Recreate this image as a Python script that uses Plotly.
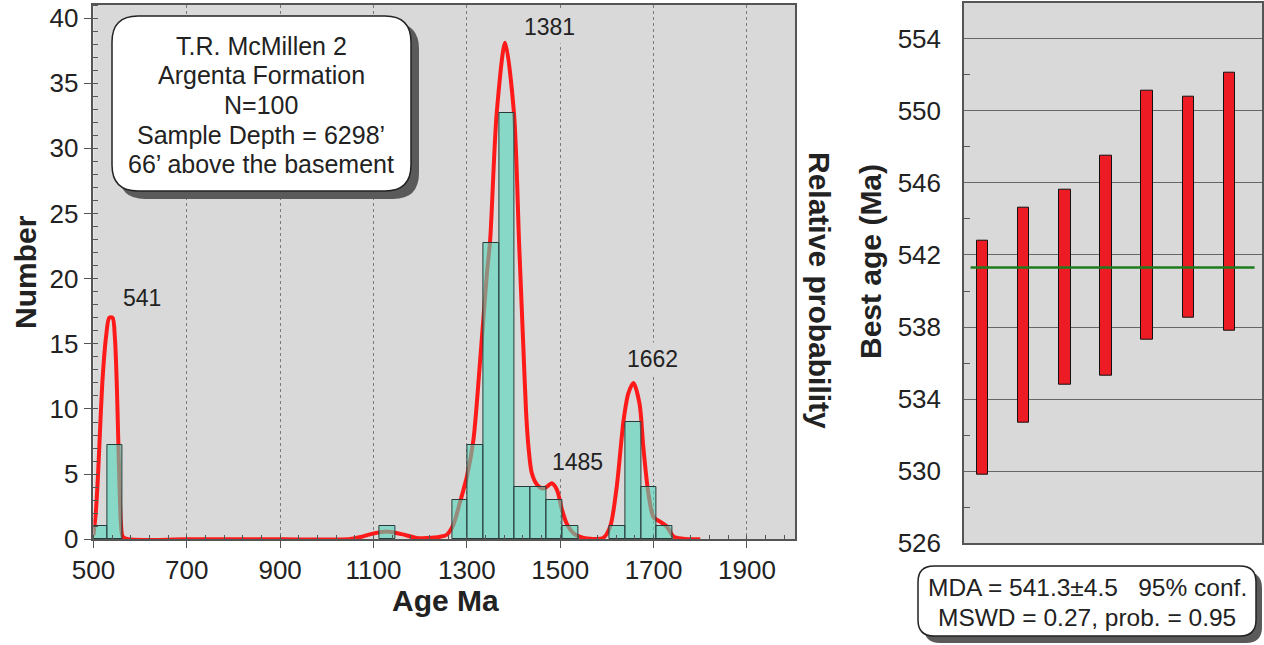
import plotly.graph_objects as go

W, H = 1264, 645

# ---------------- data ----------------
bin_left = [496, 530, 1113, 1269, 1301, 1335, 1369, 1402, 1436, 1470, 1504, 1605, 1640, 1673, 1707]
bin_right = [530, 563, 1146, 1301, 1335, 1369, 1402, 1436, 1470, 1504, 1538, 1640, 1673, 1707, 1740]
counts = [1, 7.2, 1, 3, 7.2, 22.7, 32.7, 4, 4, 3, 1, 1, 9, 4, 1]

curve_age = [500, 505, 510, 515, 520, 527, 534, 541, 546, 550, 553, 556, 559, 563, 575,
             700, 900, 1050, 1075, 1100, 1128, 1160, 1193, 1215, 1243, 1257, 1271, 1285,
             1300, 1314, 1328, 1343, 1350, 1364, 1382, 1401, 1412, 1421, 1427, 1432, 1439,
             1450, 1461, 1470, 1482, 1493, 1504, 1514, 1529, 1550, 1570, 1592, 1607, 1621,
             1636, 1646, 1657, 1670, 1678, 1689, 1700, 1714, 1728, 1743, 1763, 1800]
curve_prob = [0.3, 2, 5, 9, 12.5, 15.5, 17, 17, 15.5, 12, 8, 4, 1.2, 0.2, 0,
              0, 0, 0.03, 0.2, 0.45, 0.6, 0.4, 0.1, 0.1, 0.2, 0.35, 1.1, 2.8,
              4.8, 7.6, 13.5, 20.4, 23, 32.7, 38.1, 32.7, 22.7, 14.8, 9.7, 7.1, 5.1,
              4.2, 3.9, 4.0, 4.3, 3.8, 2.25, 1.2, 0.45, 0.1, 0.03, 0.1, 0.97, 4,
              9.2, 11.2, 12, 10.4, 7.1, 3.5, 1.7, 1.35, 1.0, 0.2, 0.05, 0]

peak_labels = ["541", "1381", "1485", "1662"]
peak_label_x = [604, 1478, 1538, 1697]
peak_label_y = [18.5, 39.3, 5.9, 13.8]

info_lines = ["T.R. McMillen 2", "Argenta Formation", "N=100",
              "Sample Depth = 6298\u2019", "66\u2019 above the basement"]

grain_index = [1, 2, 3, 4, 5, 6, 7]
grain_low = [529.8, 532.7, 534.8, 535.3, 537.3, 538.5, 537.8]
grain_high = [542.8, 544.6, 545.6, 547.5, 551.1, 550.8, 552.1]
mda = 541.3
mda_x = [0.71, 7.61]
mda_lines = ["MDA = 541.3\u00b14.5   95% conf.", "MSWD = 0.27, prob. = 0.95"]

# ---------------- helpers (layout only) ----------------
def px(x):
    return x / W

def py(y):
    return 1 - y / H

def rrect(x0, y0, x1, y1, r):
    pts = [("M", [(x0 + r, y0)]), ("L", [(x1 - r, y0)]), ("Q", [(x1, y0), (x1, y0 + r)]),
           ("L", [(x1, y1 - r)]), ("Q", [(x1, y1), (x1 - r, y1)]), ("L", [(x0 + r, y1)]),
           ("Q", [(x0, y1), (x0, y1 - r)]), ("L", [(x0, y0 + r)]), ("Q", [(x0, y0), (x0 + r, y0)])]
    s = ""
    for cmd, p in pts:
        s += cmd + " " + " ".join(f"{px(a):.5f},{py(b):.5f}" for a, b in p) + " "
    return s + "Z"

FONT = "Liberation Sans, Arial, sans-serif"
BG = "#d9d9d9"
AX = "#555555"

fig = go.Figure()

# probability curve on the base subplot (drawn beneath the overlaid histogram)
fig.add_trace(go.Scatter(x=curve_age, y=curve_prob, mode="lines",
                         line=dict(color="#ff1a1a", width=4, shape="spline", smoothing=0.8),
                         xaxis="x", yaxis="y", hoverinfo="skip", showlegend=False))

centers = [(a + b) / 2 for a, b in zip(bin_left, bin_right)]
widths = [b - a for a, b in zip(bin_left, bin_right)]
fig.add_trace(go.Bar(x=centers, y=counts, width=widths,
                     marker=dict(color="rgba(82,215,189,0.6)", line=dict(color="#2a3a38", width=1)),
                     xaxis="x", yaxis="y3", showlegend=False))

# right panel: grain ages
fig.add_trace(go.Bar(x=grain_index, y=[h - l for h, l in zip(grain_high, grain_low)], base=grain_low,
                     width=0.28, marker=dict(color="#ed1c24", line=dict(color="#111111", width=1)),
                     xaxis="x2", yaxis="y2", showlegend=False))
fig.add_trace(go.Scatter(x=mda_x, y=[mda, mda], mode="lines",
                         line=dict(color="#1e7b1e", width=2.5),
                         xaxis="x2", yaxis="y2", showlegend=False))

tickfont = dict(family=FONT, size=26, color="#222222")

fig.update_layout(
    width=W, height=H, margin=dict(l=0, r=0, t=0, b=0),
    paper_bgcolor="white", plot_bgcolor=BG, bargap=0, barmode="overlay",
    font=dict(family=FONT, color="#222222"),
    xaxis=dict(domain=[px(93.4), px(795)], range=[500, 2003], tickvals=[500, 700, 900, 1100, 1300, 1500, 1700, 1900],
               ticks="outside", ticklen=7, tickcolor=AX, tickfont=tickfont, ticklabelstandoff=0,
               showgrid=True, gridcolor="#7a7a7a", griddash="dot", gridwidth=1,
               minor=dict(dtick=40, tick0=500, ticks="inside", ticklen=5, tickcolor=AX, showgrid=False),
               showline=True, linecolor=AX, linewidth=1.5, mirror=True, zeroline=False,
               anchor="y", automargin=False),
    yaxis=dict(domain=[py(539.3), py(5)], range=[0, 41], dtick=5, tick0=0,
               ticks="outside", ticklen=8, tickcolor=AX, tickfont=tickfont, ticklabelstandoff=0,
               showgrid=False, minor=dict(dtick=1, ticks="inside", ticklen=5, tickcolor=AX, showgrid=False),
               showline=True, linecolor=AX, linewidth=1.5, mirror=True, zeroline=False,
               anchor="x", automargin=False),
    yaxis3=dict(overlaying="y", range=[0, 41], visible=False, showgrid=False, zeroline=False,
                anchor="x", automargin=False),
    xaxis2=dict(domain=[px(964), px(1262)], range=[0.55, 7.79], showticklabels=False, ticks="",
                showgrid=False, showline=True, linecolor=AX, linewidth=1.5, mirror=True,
                zeroline=False, anchor="y2", automargin=False),
    yaxis2=dict(domain=[py(543.3), py(2.7)], range=[526, 556], dtick=4, tick0=526,
                ticks="", tickfont=tickfont, ticklabelstandoff=16,
                showgrid=True, gridcolor="#666666", gridwidth=1.2,
                minor=dict(dtick=4, tick0=528, ticks="inside", ticklen=6, tickcolor=AX, showgrid=False),
                showline=True, linecolor=AX, linewidth=1.5, mirror=True, zeroline=False,
                anchor="x2", automargin=False),
)

shapes = []
# info box with shadow
shapes.append(dict(type="path", path=rrect(119, 23, 419, 199, 26), xref="paper", yref="paper",
                   fillcolor="#5a5a5a", line=dict(width=0), layer="above"))
shapes.append(dict(type="path", path=rrect(112, 16, 411, 191, 26), xref="paper", yref="paper",
                   fillcolor="white", line=dict(color="#222222", width=1.5), layer="above"))
# MDA box with shadow
shapes.append(dict(type="path", path=rrect(924, 572, 1262, 643, 16), xref="paper", yref="paper",
                   fillcolor="#5a5a5a", line=dict(width=0), layer="above"))
shapes.append(dict(type="path", path=rrect(918, 566, 1256, 636, 16), xref="paper", yref="paper",
                   fillcolor="white", line=dict(color="#222222", width=1.5), layer="above"))
fig.update_layout(shapes=shapes)

ann = []
for t, x, y in zip(peak_labels, peak_label_x, peak_label_y):
    ann.append(dict(text=t, x=x, y=y, xref="x", yref="y", showarrow=False,
                    xanchor="center", yanchor="middle",
                    font=dict(size=23, family=FONT, color="#222222"), bgcolor=BG, borderpad=3))
for i, t in enumerate(info_lines):
    ann.append(dict(text=t, x=px(261), y=py(46 + 29.5 * i), xref="paper", yref="paper", showarrow=False,
                    font=dict(size=25, family=FONT, color="#222222"), xanchor="center", yanchor="middle"))
for i, t in enumerate(mda_lines):
    ann.append(dict(text=t, x=px(1087), y=py(587 + 30 * i), xref="paper", yref="paper", showarrow=False,
                    font=dict(size=24.5, family=FONT, color="#222222"), xanchor="center", yanchor="middle"))
titlefont = dict(size=30, family=FONT, color="#222222", weight="bold")
common = dict(xref="paper", yref="paper", showarrow=False, xanchor="center", yanchor="middle", font=titlefont)
ann.append(dict(text="<b>Number</b>", x=px(25), y=py(272), textangle=-90, **common))
ann.append(dict(text="<b>Age Ma</b>", x=px(445), y=py(600), **common))
ann.append(dict(text="<b>Relative probability</b>", x=px(820), y=py(290), textangle=90, **common))
ann.append(dict(text="<b>Best age (Ma)</b>", x=px(870), y=py(262), textangle=-90, **common))
fig.update_layout(annotations=ann)

fig.write_html("out.html")
